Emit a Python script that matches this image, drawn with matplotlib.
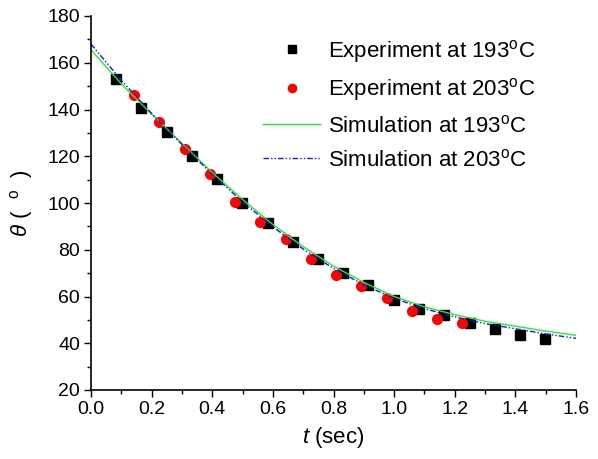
import matplotlib
matplotlib.use("Agg")
import matplotlib.pyplot as plt
from matplotlib.ticker import MultipleLocator

plt.rcParams['font.family'] = ['Liberation Sans', 'DejaVu Sans']
plt.rcParams['mathtext.fontset'] = 'custom'
plt.rcParams['mathtext.rm'] = 'Liberation Sans'
plt.rcParams['mathtext.it'] = 'Liberation Sans:italic'

# Experiment at 193 C (black squares)
t_exp193 = [0.082, 0.165, 0.250, 0.332, 0.415, 0.499, 0.583, 0.666, 0.749, 0.832,
            0.915, 1.000, 1.083, 1.165, 1.249, 1.333, 1.415, 1.499]
theta_exp193 = [153.2, 140.5, 130.4, 120.1, 110.1, 99.9, 91.6, 83.2, 76.2, 70.2,
                65.0, 58.5, 54.7, 52.1, 48.8, 46.2, 43.4, 42.0]

# Experiment at 203 C (red circles)
t_exp203 = [0.142, 0.225, 0.309, 0.393, 0.475, 0.559, 0.642, 0.725, 0.808, 0.891,
            0.975, 1.059, 1.142, 1.225]
theta_exp203 = [146.1, 134.7, 123.1, 112.5, 100.6, 91.7, 84.5, 76.2, 69.1, 64.5,
                59.2, 53.9, 50.2, 48.5]

# Simulation curves
t_sim = [0.0, 0.1, 0.2, 0.3, 0.4, 0.5, 0.6, 0.7, 0.8, 0.9, 1.0, 1.1, 1.2, 1.3, 1.4, 1.5, 1.6]
theta_sim193 = [165.5, 151.0, 138.0, 125.5, 113.0, 101.5, 90.8, 81.3, 73.0, 66.0,
                60.0, 55.6, 52.2, 49.4, 47.3, 45.2, 43.4]
theta_sim203 = [168.0, 152.5, 138.3, 125.0, 112.3, 100.5, 89.8, 80.3, 72.0, 65.0,
                59.2, 54.8, 51.3, 48.4, 46.2, 44.0, 42.1]

labels = [r"Experiment at 193$^{\mathrm{o}}$C", r"Experiment at 203$^{\mathrm{o}}$C",
          r"Simulation at 193$^{\mathrm{o}}$C", r"Simulation at 203$^{\mathrm{o}}$C"]

fig = plt.figure(figsize=(5.98, 4.59), dpi=100)
ax = fig.add_axes([91/598, 1-390/459, (576-91)/598, (390-16)/459])

h1, = ax.plot(t_exp193, theta_exp193, 's', color='black', markersize=6.5, linestyle='none')
h2, = ax.plot(t_exp203, theta_exp203, 'o', color='red', markersize=7, linestyle='none')
h3, = ax.plot(t_sim, theta_sim193, '-', color='#22ee22', linewidth=1.0)
h4, = ax.plot(t_sim, theta_sim203, color='#1515ff', linewidth=1.0, dashes=[4, 1.5, 1, 1.5, 1, 1.5])

ax.set_xlim(0, 1.6)
ax.set_ylim(20, 180)
ax.xaxis.set_major_locator(MultipleLocator(0.2))
ax.xaxis.set_minor_locator(MultipleLocator(0.1))
ax.yaxis.set_major_locator(MultipleLocator(20))
ax.yaxis.set_minor_locator(MultipleLocator(10))
ax.xaxis.set_major_formatter(matplotlib.ticker.FormatStrFormatter('%.1f'))
ax.tick_params(which='major', direction='out', length=5, width=1.0, labelsize=14, pad=3)
ax.tick_params(which='minor', direction='out', length=3, width=1.0)
for s in ['top', 'right']:
    ax.spines[s].set_visible(False)
for s in ['left', 'bottom']:
    ax.spines[s].set_linewidth(1.2)

ax.set_xlabel(r"$\it{t}$ (sec)", fontsize=16, labelpad=5)
ax.set_ylabel(r"$\it{\theta}$ (  $^{\mathrm{o}}$  )", fontsize=16, labelpad=9)

leg = ax.legend([h1, h2, h3, h4], labels, loc='upper left', bbox_to_anchor=(0.355, 0.942),
                frameon=False, fontsize=16, handlelength=2.57, handletextpad=0.36,
                labelspacing=0.53, borderpad=0, borderaxespad=0, markerscale=0.85)

fig.savefig("out.png", dpi=100)
